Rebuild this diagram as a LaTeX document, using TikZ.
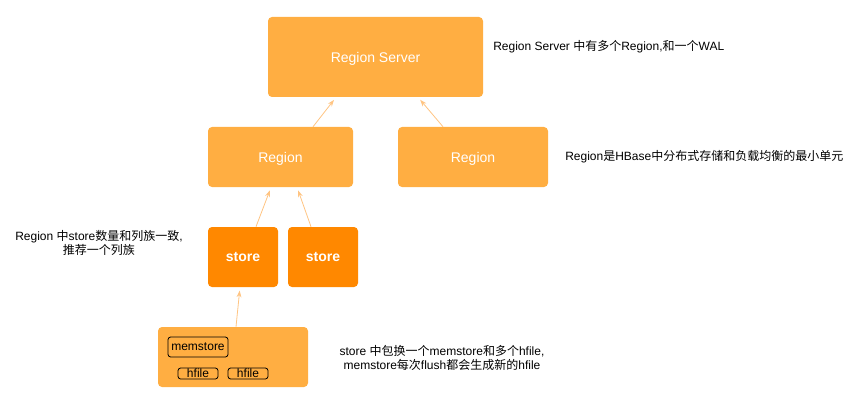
\documentclass[tikz,border=0pt]{standalone}
\usepackage{fontspec}
\setmainfont{Liberation Sans}
\newfontfamily\zhfont{Noto Sans CJK SC}
\newcommand{\zh}[1]{{\zhfont #1}}
\usetikzlibrary{arrows.meta,calc}
\definecolor{boxfill}{RGB}{255,174,66}
\definecolor{storefill}{RGB}{255,136,0}
\definecolor{linkcol}{RGB}{255,196,130}
\tikzstyle{block}=[rectangle,rounded corners=3pt,fill=boxfill,text=white,font=\fontsize{10.5}{12}\selectfont,inner sep=0pt,text depth=0pt]
\tikzstyle{storebox}=[block,fill=storefill,font=\fontsize{10.5}{12}\selectfont\bfseries,minimum width=52.5pt,minimum height=45pt]
\tikzstyle{inbox}=[rectangle,draw=black,line width=0.6pt,rounded corners=2pt,inner sep=0pt,font=\fontsize{9}{10}\selectfont]
\tikzstyle{note}=[font=\fontsize{9}{11}\selectfont,inner sep=0pt,align=center]
\tikzstyle{link}=[draw=linkcol,line width=0.6pt,-{Stealth[length=5pt,width=3.6pt]},shorten >=2.5pt]

\begin{document}
\begin{tikzpicture}[x=0.75pt,y=-0.75pt]

            \path[use as bounding box] (0,0) rectangle (863,406);

            \node[block,minimum width=161.25pt,minimum height=60pt] (rs) at (375.5,57) {Region Server};
            \node[block,minimum width=108.75pt,minimum height=45pt] (regionA) at (280.5,157) {Region};
            \node[block,minimum width=112.5pt,minimum height=45pt] (regionB) at (473,157) {Region};
            \node[storebox] (storeA) at (243,257) {store};
            \node[storebox] (storeB) at (323,257) {store};
            \node[block,minimum width=112.5pt,minimum height=45pt] (memfile) at (233,357) {};

            \node[inbox,minimum width=45pt,minimum height=15pt] (memstore) at (198,347) {memstore};
            \node[inbox,minimum width=30pt,minimum height=8.25pt] (hfileA) at (198,373.5) {hfile};
            \node[inbox,minimum width=30pt,minimum height=8.25pt] (hfileB) at (248,373.5) {hfile};

            \path[link] ([xshift=24.4pt]regionA.north) -- ([xshift=-29.6pt]rs.south);
            \path[link] ([xshift=-22.5pt]regionB.north) -- ([xshift=31.9pt]rs.south);
            \path[link] ([xshift=9.75pt]storeA.north) -- ([xshift=-7.1pt]regionA.south);
            \path[link] ([xshift=-9pt]storeB.north) -- ([xshift=12.4pt]regionA.south);
            \path[link] ([xshift=2.25pt]memfile.north) -- ([xshift=-2.25pt]storeA.south);

            \node[note,anchor=west] (noteRS) at (493,47) {Region Server \zh{中有多个}Region,\zh{和一个}WAL};
            \node[note,anchor=west] (noteRegion) at (565,157) {Region\zh{是}HBase\zh{中分布式存储和负载均衡的最小单元}};
            \node[note] (noteStore) at (99,243) {Region \zh{中}store\zh{数量和列族一致}, \\ \zh{推荐一个列族}};
            \node[note] (noteMem) at (442,358) {store \zh{中包换一个}memstore\zh{和多个}hfile, \\ memstore\zh{每次}flush\zh{都会生成新的}hfile};

        \end{tikzpicture}
\end{document}
